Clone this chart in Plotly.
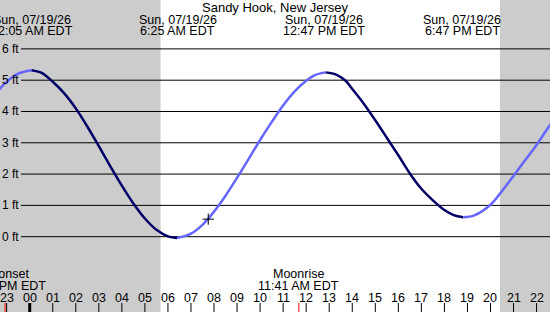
import plotly.graph_objects as go

# ---------------- data ----------------
station = "Sandy Hook, New Jersey"
# tide height (ft); time in hours from midnight 07/19/26
times = [-2, -1.5, -1, -0.5, 0.083,
         0.5, 1, 1.5, 2, 2.5, 3, 3.5, 4, 4.5, 5, 5.5, 6, 6.40,
         7, 7.5, 8, 8.5, 9, 9.5, 10, 10.5, 11, 11.5, 12, 12.4, 12.85,
         13.3, 13.7, 14, 14.5, 15, 15.5, 16, 16.5, 17, 17.5, 18, 18.4, 18.82,
         19.3, 20, 20.5, 21, 21.5, 22, 22.5, 23]
heights = [4.04, 4.55, 4.95, 5.21, 5.32,
           5.24, 4.95, 4.58, 4.10, 3.52, 2.89, 2.25, 1.63, 1.06, 0.58, 0.22, 0.01, -0.04,
           0.10, 0.38, 0.80, 1.31, 1.88, 2.48, 3.09, 3.66, 4.19, 4.64, 4.98, 5.17, 5.25,
           5.18, 4.99, 4.72, 4.25, 3.72, 3.16, 2.60, 2.02, 1.53, 1.16, 0.85, 0.69, 0.62,
           0.68, 1.02, 1.46, 1.94, 2.44, 2.93, 3.48, 3.98]

event_times = [0.083, 6.417, 12.783, 18.783]
event_dates = ["Sun, 07/19/26"] * 4
event_labels = ["12:05 AM EDT", "6:25 AM EDT", "12:47 PM EDT", "6:47 PM EDT"]

moon_times = [-1.07, 11.683, 23.32]
moon_names = ["Moonset", "Moonrise", "Moonset"]
moon_labels = ["10:56 PM EDT", "11:41 AM EDT", "11:19 PM EDT"]

sunrise, sunset = 5.68, 20.41
now_time, now_height = 7.75, 0.56

hour_ticks = list(range(-1, 24))
hour_text = ["%02d" % (h % 24) for h in hour_ticks]
y_ticks = [0, 1, 2, 3, 4, 5, 6]
y_text = ["%d ft" % v for v in y_ticks]

# ---------------- layout constants ----------------
W, H = 550, 312
x_range = [-1.289, 22.583]
y_range = [-2.406, 7.562]
GRAY = "#cccccc"
DARK = "#000066"
LIGHT = "#6666ff"
FONT = "Liberation Sans"


def py(px):
    return 1 - px / H


fig = go.Figure()

# curve split into rising/falling segments at extremes
ext_idx = [0]
for i in range(1, len(heights) - 1):
    if (heights[i] - heights[i - 1]) * (heights[i + 1] - heights[i]) < 0:
        ext_idx.append(i)
ext_idx.append(len(heights) - 1)
for a, b in zip(ext_idx[:-1], ext_idx[1:]):
    rising = heights[b] > heights[a]
    fig.add_trace(go.Scatter(
        x=times[a:b + 1], y=heights[a:b + 1], mode="lines",
        line=dict(color=LIGHT if rising else DARK, width=2.5, shape="spline", smoothing=1.0),
        hoverinfo="skip", showlegend=False))

fig.add_trace(go.Scatter(
    x=[now_time], y=[now_height], mode="markers",
    marker=dict(symbol="cross-thin", size=8, line=dict(color="black", width=1)),
    showlegend=False, hoverinfo="skip"))

shapes = []
# night shading
shapes.append(dict(type="rect", xref="x", yref="paper", x0=x_range[0] - 1, x1=sunrise,
                   y0=0, y1=1, fillcolor=GRAY, line=dict(width=0), layer="below"))
shapes.append(dict(type="rect", xref="x", yref="paper", x0=sunset, x1=x_range[1] + 1,
                   y0=0, y1=1, fillcolor=GRAY, line=dict(width=0), layer="below"))
# grid lines
for v in y_ticks:
    shapes.append(dict(type="line", xref="paper", yref="y", x0=21 / W, x1=1,
                       y0=v, y1=v, line=dict(color="black", width=1), layer="below"))
# hour ticks
for h in hour_ticks:
    shapes.append(dict(type="line", xref="x", yref="paper", x0=h, x1=h,
                       y0=py(312), y1=py(303),
                       line=dict(color="black", width=3 if h % 24 == 0 else 1)))
# moon ticks
for t in moon_times:
    shapes.append(dict(type="line", xref="x", yref="paper", x0=t, x1=t,
                       y0=py(312), y1=py(303), line=dict(color="red", width=1)))

ann = []


def add(text, x, xref, y, yref, size, xanchor="center"):
    ann.append(dict(text=text, x=x, xref=xref, y=y, yref=yref, showarrow=False,
                    xanchor=xanchor, yanchor="middle", borderpad=0,
                    font=dict(family=FONT, size=size, color="black")))


add(station, 0.5, "paper", py(7), "paper", 13)
for t, d, l in zip(event_times, event_dates, event_labels):
    add(d, t, "x", py(19.5), "paper", 12.5)
    add(l, t, "x", py(31), "paper", 12.5)
for t, n, l in zip(moon_times, moon_names, moon_labels):
    add(n, t, "x", py(274), "paper", 12.5)
    add(l, t, "x", py(286), "paper", 12.5)
for h, s in zip(hour_ticks, hour_text):
    add(s, h, "x", py(297.5), "paper", 12.5)
for v, s in zip(y_ticks, y_text):
    add(s, 20 / W, "paper", v, "y", 12, xanchor="right")

fig.update_layout(
    width=W, height=H, margin=dict(l=0, r=0, t=0, b=0),
    paper_bgcolor="white", plot_bgcolor="white",
    xaxis=dict(range=x_range, visible=False, fixedrange=True),
    yaxis=dict(range=y_range, visible=False, fixedrange=True),
    shapes=shapes, annotations=ann, showlegend=False,
)

fig.write_html("out.html")
